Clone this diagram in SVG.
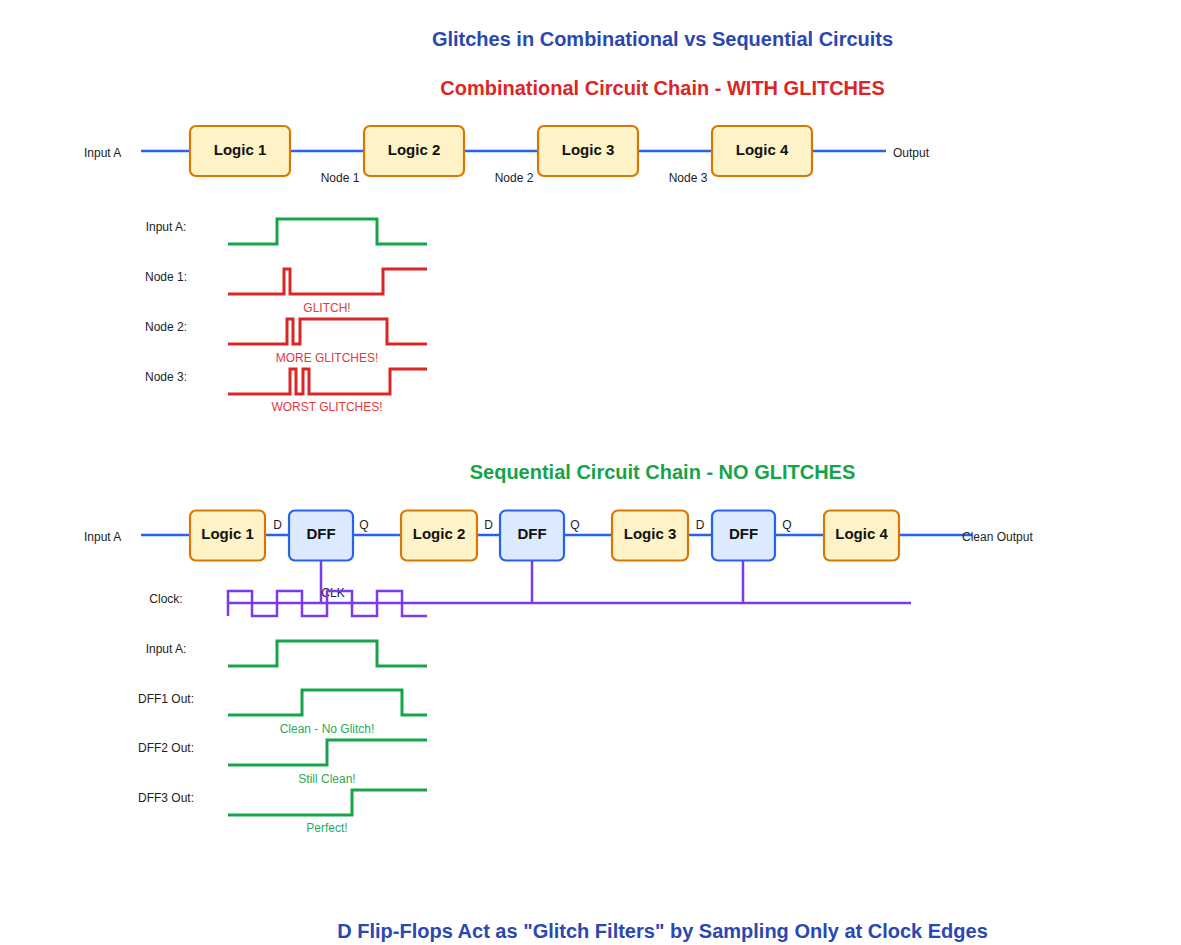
<svg xmlns="http://www.w3.org/2000/svg" width="1181" height="945" viewBox="0 0 1181 945">
<style>
text{font-family:"Liberation Sans",Arial,sans-serif}
.title{font-size:20px;font-weight:bold;text-anchor:middle}
.blue{fill:#2a48b0}
.red{fill:#dc2626}
.green{fill:#16a34a}
.lbl{font-size:12px;fill:#222}
.mid{text-anchor:middle}
.boxtxt{font-size:15px;font-weight:bold;fill:#111;text-anchor:middle}
.logic{fill:#fef3c7;stroke:#d97706;stroke-width:2.2}
.dff{fill:#dbeafe;stroke:#2563eb;stroke-width:2.2}
.wire{stroke:#2563eb;stroke-width:2.5;fill:none}
.clk{stroke:#7c3aed;stroke-width:2.5;fill:none}
.wg{stroke:#16a34a;stroke-width:3;fill:none}
.wr{stroke:#dc2626;stroke-width:3;fill:none}
.note{font-size:12px;text-anchor:middle}
.nred{fill:#e03c3c}
.ngreen{fill:#2aaa5a}
</style>
<rect width="1181" height="945" fill="#ffffff"/>

<text class="title blue" x="662.5" y="46">Glitches in Combinational vs Sequential Circuits</text>
<text class="title red" x="662.5" y="95">Combinational Circuit Chain - WITH GLITCHES</text>
<text class="title green" x="662.5" y="479">Sequential Circuit Chain - NO GLITCHES</text>
<text class="title blue" x="662.5" y="938">D Flip-Flops Act as "Glitch Filters" by Sampling Only at Clock Edges</text>

<g id="connectors">
<path class="wire" d="M141,151H190M290,151H364M464,151H538M638,151H712M812,151H886"/>
<path class="wire" d="M141,535H190M265,535H289M353,535H401M477,535H500M564,535H612M688,535H712M775,535H824M899,535H972"/>
<path class="clk" d="M321,561V603M532,561V603M743,561V603M228,603H911"/>
</g>

<g id="comb-chain">
<g id="c-logic1"><rect class="logic" x="190" y="126" width="100" height="50" rx="6"/><text class="boxtxt" x="240" y="154.5">Logic 1</text></g>
<g id="c-logic2"><rect class="logic" x="364" y="126" width="100" height="50" rx="6"/><text class="boxtxt" x="414" y="154.5">Logic 2</text></g>
<g id="c-logic3"><rect class="logic" x="538" y="126" width="100" height="50" rx="6"/><text class="boxtxt" x="588" y="154.5">Logic 3</text></g>
<g id="c-logic4"><rect class="logic" x="712" y="126" width="100" height="50" rx="6"/><text class="boxtxt" x="762" y="154.5">Logic 4</text></g>
<text class="lbl" x="84" y="157">Input A</text>
<text class="lbl" x="893" y="157">Output</text>
<text class="lbl mid" x="340" y="182">Node 1</text>
<text class="lbl mid" x="514" y="182">Node 2</text>
<text class="lbl mid" x="688" y="182">Node 3</text>
</g>

<g id="comb-waves">
<text class="lbl mid" x="166" y="231">Input A:</text>
<path class="wg" d="M228,244H277V219H377V244H427"/>
<text class="lbl mid" x="166" y="281">Node 1:</text>
<path class="wr" d="M228,294H284V269H290V294H383V269H427"/>
<text class="note nred" x="327" y="312">GLITCH!</text>
<text class="lbl mid" x="166" y="331">Node 2:</text>
<path class="wr" d="M228,344H287V319H293V344H300V319H387V344H427"/>
<text class="note nred" x="327" y="362">MORE GLITCHES!</text>
<text class="lbl mid" x="166" y="381">Node 3:</text>
<path class="wr" d="M228,394H290V369H296V394H303V369H309V394H390V369H427"/>
<text class="note nred" x="327" y="411">WORST GLITCHES!</text>
</g>

<g id="seq-chain">
<g id="s-logic1"><rect class="logic" x="190" y="510.5" width="75" height="50" rx="6"/><text class="boxtxt" x="227.5" y="539">Logic 1</text></g>
<g id="s-dff1"><rect class="dff" x="289" y="510.5" width="64" height="50" rx="6"/><text class="boxtxt" x="321" y="539">DFF</text></g>
<g id="s-logic2"><rect class="logic" x="401" y="510.5" width="76" height="50" rx="6"/><text class="boxtxt" x="439" y="539">Logic 2</text></g>
<g id="s-dff2"><rect class="dff" x="500" y="510.5" width="64" height="50" rx="6"/><text class="boxtxt" x="532" y="539">DFF</text></g>
<g id="s-logic3"><rect class="logic" x="612" y="510.5" width="76" height="50" rx="6"/><text class="boxtxt" x="650" y="539">Logic 3</text></g>
<g id="s-dff3"><rect class="dff" x="712" y="510.5" width="63" height="50" rx="6"/><text class="boxtxt" x="743.5" y="539">DFF</text></g>
<g id="s-logic4"><rect class="logic" x="824" y="510.5" width="75" height="50" rx="6"/><text class="boxtxt" x="861.5" y="539">Logic 4</text></g>
<text class="lbl" x="84" y="541">Input A</text>
<text class="lbl" x="962" y="541">Clean Output</text>
<text class="lbl mid" x="277.5" y="529">D</text>
<text class="lbl mid" x="364" y="529">Q</text>
<text class="lbl mid" x="488.5" y="529">D</text>
<text class="lbl mid" x="575" y="529">Q</text>
<text class="lbl mid" x="700" y="529">D</text>
<text class="lbl mid" x="787" y="529">Q</text>
<text class="lbl mid" x="333" y="597">CLK</text>
</g>

<g id="seq-waves">
<text class="lbl mid" x="166" y="603">Clock:</text>
<path class="clk" d="M228,616V591H252V616H277V591H302V616H327V591H352V616H377V591H402V616H427"/>
<text class="lbl mid" x="166" y="653">Input A:</text>
<path class="wg" d="M228,666H277V641H377V666H427"/>
<text class="lbl mid" x="166" y="703">DFF1 Out:</text>
<path class="wg" d="M228,715H302V690H402V715H427"/>
<text class="note ngreen" x="327" y="733">Clean - No Glitch!</text>
<text class="lbl mid" x="166" y="752">DFF2 Out:</text>
<path class="wg" d="M228,765H327V740H427"/>
<text class="note ngreen" x="327" y="783">Still Clean!</text>
<text class="lbl mid" x="166" y="802">DFF3 Out:</text>
<path class="wg" d="M228,815H352V790H427"/>
<text class="note ngreen" x="327" y="832">Perfect!</text>
</g>
</svg>
